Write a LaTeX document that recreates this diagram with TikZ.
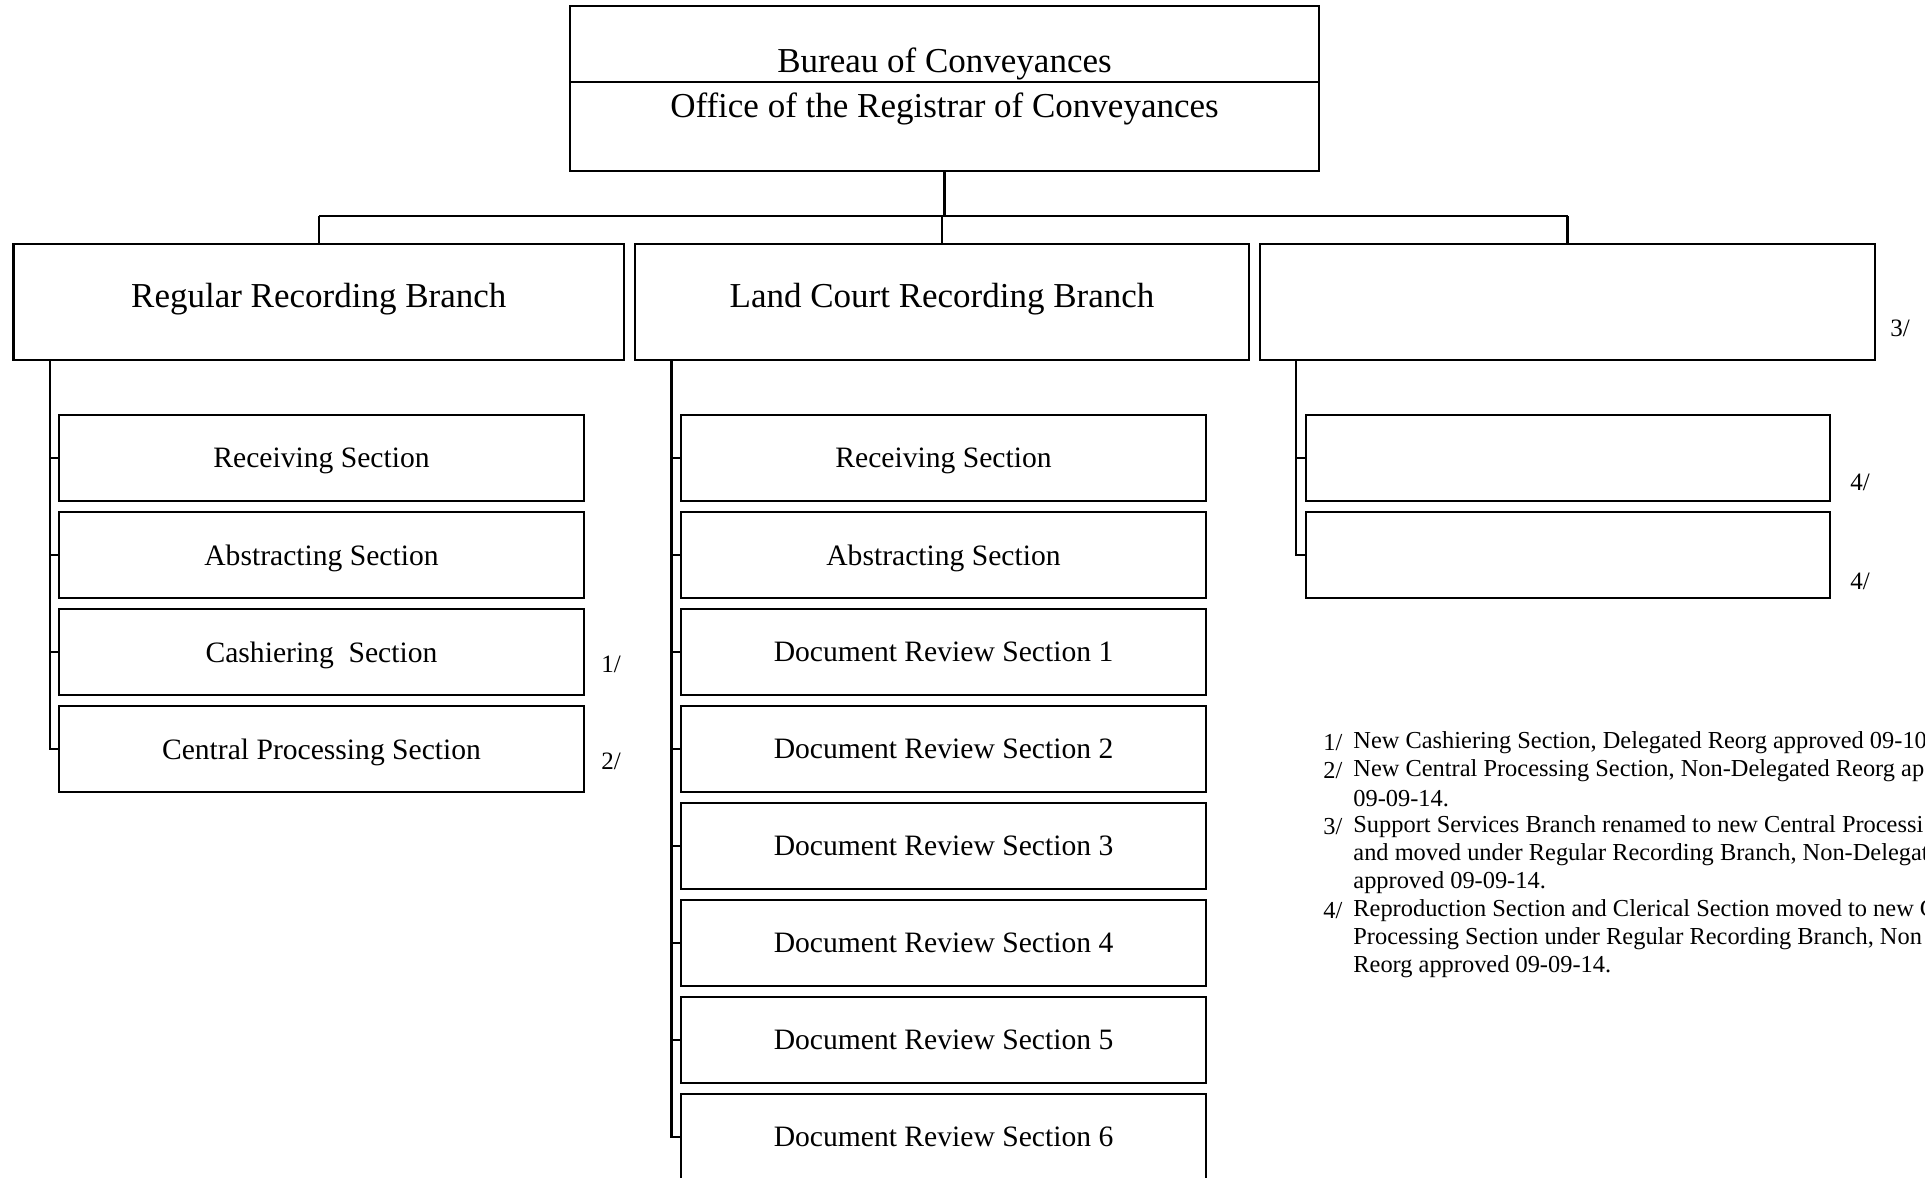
\documentclass[tikz,border=0pt]{standalone}
\usepackage{fontspec}
\setmainfont{Liberation Serif}
\usetikzlibrary{fit}
\begin{document}
\begin{tikzpicture}[x=0.5pt,y=-0.5pt,
  ln/.style={line width=1.1pt},
  box/.style={draw, line width=1.1pt, inner sep=0pt, rectangle},
  ttl/.style={font=\fontsize{17.5}{21}\selectfont, inner sep=0pt},
  sec/.style={box, minimum width=262.5pt, minimum height=43pt, text depth=0pt, font=\fontsize{14.8}{18}\selectfont},
  fn/.style={font=\fontsize{12.2}{14}\selectfont, inner sep=0pt, anchor=west},
  mk/.style={font=\fontsize{12.5}{14}\selectfont, inner sep=0pt}]
\clip (0,0) rectangle (1925,1177);
\fill[white] (0,0) rectangle (1925,1177);

% top box
\node[box, fit={(570,6) (1319,171)}] (top) {};
\coordinate (divL) at (570,82);
\coordinate (divR) at (1319,82);
\draw[ln] (divL) -- (divR);
\node[ttl] (topt1) at (944.5,64) {Bureau of Conveyances};
\node[ttl] (topt2) at (944.5,109) {Office of the Registrar of Conveyances};

% branches
\node[box, fit={(13.5,244) (624,360)}] (rrb) {};
\node[box, fit={(635,244) (1249,360)}] (lcb) {};
\node[box, fit={(1260,244) (1875,360)}] (spb) {};
\node[ttl] (rrbt) at (318.75,299) {Regular Recording Branch};
\node[ttl] (lcbt) at (942,299) {Land Court Recording Branch};
\node[mk] (n3) at (1900,328) {3/};

% bus
\coordinate (busL) at (rrb.north |- 0,216);
\coordinate (busR) at (spb.north |- 0,216);
\draw[ln] (top.south) -- (top.south |- busL);
\draw[ln] (busL) -- (busR);
\draw[ln] (busL) -- (rrb.north);
\draw[ln] (lcb.north |- busL) -- (lcb.north);
\draw[ln] (busR) -- (spb.north);

% left sections
\node[sec] (l1) at (321.5,458) {Receiving Section};
\node[sec] (l2) at (321.5,555) {Abstracting Section};
\node[sec] (l3) at (321.5,652) {Cashiering\ \ Section};
\node[sec] (l4) at (321.5,749) {Central Processing Section};
\node[mk] (n1) at (611,664) {1/};
\node[mk] (n2) at (611,761) {2/};
\coordinate (tL) at (50,360);
\draw[ln] (tL) |- (l4.west);
\foreach \n in {l1,l2,l3} \draw[ln] (tL |- \n.west) -- (\n.west);

% middle sections
\node[sec] (m1) at (943.5,458) {Receiving Section};
\node[sec] (m2) at (943.5,555) {Abstracting Section};
\node[sec] (m3) at (943.5,652) {Document Review Section 1};
\node[sec] (m4) at (943.5,749) {Document Review Section 2};
\node[sec] (m5) at (943.5,846) {Document Review Section 3};
\node[sec] (m6) at (943.5,943) {Document Review Section 4};
\node[sec] (m7) at (943.5,1040) {Document Review Section 5};
\node[sec] (m8) at (943.5,1137) {Document Review Section 6};
\coordinate (tM) at (671.5,360);
\draw[ln] (tM) |- (m8.west);
\foreach \n in {m1,m2,m3,m4,m5,m6,m7} \draw[ln] (tM |- \n.west) -- (\n.west);

% right sections
\node[sec, minimum width=262pt] (s1) at (1568,458) {};
\node[sec, minimum width=262pt] (s2) at (1568,555) {};
\node[mk] (n4a) at (1860,482) {4/};
\node[mk] (n4b) at (1860,581) {4/};
\coordinate (tR) at (1296,360);
\draw[ln] (tR) |- (s2.west);
\draw[ln] (tR |- s1.west) -- (s1.west);

% footnotes
\node[fn] (f1m) at (1323,743) {1/};
\node[fn] (f1) at (1353,743) {New Cashiering Section, Delegated Reorg approved 09-10};
\node[fn] (f2m) at (1323,771) {2/};
\node[fn] (f2) at (1353,771) {New Central Processing Section, Non-Delegated Reorg ap};
\node[fn] (f2b) at (1353,799) {09-09-14.};
\node[fn] (f3m) at (1323,827) {3/};
\node[fn] (f3) at (1353,827) {Support Services Branch renamed to new Central Processi};
\node[fn] (f3b) at (1353,855) {and moved under Regular Recording Branch, Non-Delegat};
\node[fn] (f3c) at (1353,883) {approved 09-09-14.};
\node[fn] (f4m) at (1323,911) {4/};
\node[fn] (f4) at (1353,911) {Reproduction Section and Clerical Section moved to new C};
\node[fn] (f4b) at (1353,939) {Processing Section under Regular Recording Branch, Non};
\node[fn] (f4c) at (1353,967) {Reorg approved 09-09-14.};
\end{tikzpicture}
\end{document}
